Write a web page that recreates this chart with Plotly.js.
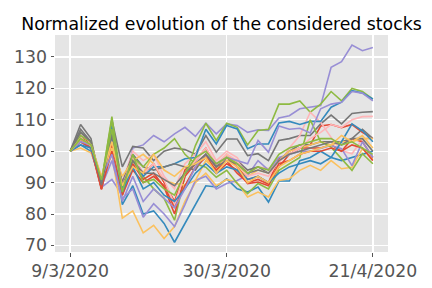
<!DOCTYPE html>
<html>
<head>
<meta charset="utf-8">
<script src="https://cdn.plot.ly/plotly-3.0.1.min.js"></script>
<style>html,body{margin:0;padding:0;background:#fff;}#chart{width:432px;height:288px;}</style>
</head>
<body>
<div id="chart"></div>
<script>
// Trading days (x categories)
const dates = ["9/3/2020","10/3/2020","11/3/2020","12/3/2020","13/3/2020","16/3/2020","17/3/2020","18/3/2020","19/3/2020","20/3/2020",
  "23/3/2020","24/3/2020","25/3/2020","26/3/2020","27/3/2020","30/3/2020","31/3/2020","1/4/2020","2/4/2020","3/4/2020",
  "6/4/2020","7/4/2020","8/4/2020","9/4/2020","14/4/2020","15/4/2020","16/4/2020","17/4/2020","20/4/2020","21/4/2020"];
const tickLabels = ["9/3/2020","30/3/2020","21/4/2020"];
const yTicks = [70,80,90,100,110,120,130];

// Normalized series (start = 100), in plotting order
const s01 = [100,105,102,88,104,90,98,93,96,90,84,94,97,101,95,98,95,91,92,90,97.6,99,101,102,108,108.5,107.5,108.5,106,104];
const s02 = [100,102,100,89.5,106,83,89,80,81,77,71,77,83,89,88.6,91.2,88,87,88.6,83.8,90.5,90.5,97,98,100,98,97,98,99,100];
const s03 = [100,104,102,88.5,91,86,101,102,105,103,105.5,107.6,104.7,108.9,105.5,108.7,108.2,106,106.8,106.6,110.6,111.3,113.5,114,114.5,126.7,128.5,133.8,132,133];
const s04 = [100,108.5,104,88,110,95,101.5,101,97,100,101,100.5,99,105,99.7,103.9,103.9,98.6,99.2,97,103.4,104,105,105,108.7,111.5,108.7,112,112.4,112.6];
const s05 = [100,101,99.5,91.5,99,78.7,81,74,76.4,72.2,76,84,90,93,89,91,90,85.4,87,85.4,90.7,91.2,93.9,95.5,93.9,97,94.4,94.9,100.8,97.6];
const s06 = [100,106,103,90,111,88,97,92,88,85,78,92,101.8,108.9,103.4,108.9,107.6,102,106.6,107,115,115,116,112.4,115,119,116,120,119,116.6];
const s07 = [100,105,103,90.5,106,90,100,97,99,92,88,96,99,103,97,100,98,93,95,94.5,96,101,105,112.4,109.2,104.4,100.2,99.2,103.9,104.4];
const s08 = [100,104,101,87.8,102,88,96,91,93,88.6,80,92,96,99,93,96,94,89.7,90.2,89,95,99,101,101,101,102,100,104,103,98];
const s09 = [100,103,101,90,108,88,98,92,95,95,96,97.6,98,107,102.3,108.2,107.1,100.8,102.3,102.3,109,109.5,108.5,109.5,109.5,114,115.6,119.3,118.5,116.6];
const s10 = [100,103,101,88.8,97,85,88,79,83.3,80,76,83,90.7,92,88,89.7,90.7,92.3,97,94,98,99,100,100,101,101.8,100.8,95.4,103,98];
const s11 = [100,107,103,89,106,90,99,95,94,95,96,95,94,99,95,98,97,94,95,93,97,100,102,102,103,103,103,104,107,104];
const s12 = [100,103,102,91,101,92,97,99,96,90.7,89.7,89.2,90.7,97,94,99,96,92,94,93,97,100,101,102,103,102,103,103,104,104];
const s13 = [100,105,103,90.5,110,86,98,95,99,101,104,99,96,94.9,91.7,93.9,89.7,86.5,89.7,88,93.9,96,98,110,103,101.3,97.6,93.9,99.2,96];
const s14 = [100,104,102,89.5,104,89,98,93,96,91,83,93,97,101,96,99,97,92,93,92,97,99,101,104,106,108.5,107.6,110,111,111.1];
const s15 = [100,103,101,88.3,100,86,94,90,92,89,82,89,95,98,94,97,93,90,91,89.5,96,97,99,100,100,101,100,102,101,97];
const s16 = [100,102,101,90.5,105,87,95,88,90,86,84,88,93,96,93,95,94,91,92,90,93,95,96,97,96,98,103,108.7,106.5,103];
const s17 = [100,103,102,91.5,99,84,92,84,88,85,82,88,95,99,96,98,97,96,103.4,99.7,108,107,107.3,105.8,113.5,115,115.6,119,118.5,116];
const s18 = [100,106,103,89.2,105,89,97,93,93,91,89,93,96,99,95,97,96,93,94,93,97,99,100,101,102,103,102,104,104,100];
const s19 = [100,104,102,92,103,89,95,93,99,94,92,95,96,98,93,97,95,90,92,90,95,97,99,100,101,102,105,103,105,101];
const s20 = [100,104,102,90.8,107,87,99,90,91,88,86,93,98,100,96,98,96,93,95,94,99,101,102,103,104,104,102,103,101,99];

const series = [s01,s02,s03,s04,s05,s06,s07,s08,s09,s10,s11,s12,s13,s14,s15,s16,s17,s18,s19,s20];
const palette = ["#E24A33","#348ABD","#988ED5","#777777","#FBC15E","#8EBA42","#FFB5B8"];

const traces = series.map((s, i) => ({
  x: dates, y: s, type: "scatter", mode: "lines",
  line: {color: palette[i % palette.length], width: 1.6},
  hoverinfo: "skip", showlegend: false
}));

const tickFont = {family: "DejaVu Sans", size: 17.3, color: "#555555"};
const layout = {
  width: 432, height: 288,
  margin: {l: 55, r: 44, t: 35, b: 36},
  paper_bgcolor: "#ffffff", plot_bgcolor: "#E5E5E5",
  title: {text: "Normalized evolution of the considered stocks", x: 0.5, xref: "paper",
          y: 1 - 24/288, yref: "container", yanchor: "middle",
          font: {family: "DejaVu Sans", size: 17.3, color: "#000000"}},
  xaxis: {type: "category", range: [-1.45, 30.45], tickmode: "array", tickvals: tickLabels, ticktext: tickLabels,
          showgrid: true, gridcolor: "#ffffff", gridwidth: 1.3, zeroline: false, showline: false,
          ticks: "outside", ticklen: 3.5, tickwidth: 1, tickcolor: "#555555", tickfont: tickFont},
  yaxis: {range: [67.9, 137.0], tickmode: "array", tickvals: yTicks,
          showgrid: true, gridcolor: "#ffffff", gridwidth: 1.3, zeroline: false, showline: false,
          ticks: "outside", ticklen: 3.5, tickwidth: 1, tickcolor: "#555555", tickfont: tickFont}
};
Plotly.newPlot("chart", traces, layout, {staticPlot: true, displayModeBar: false});
</script>
</body>
</html>
